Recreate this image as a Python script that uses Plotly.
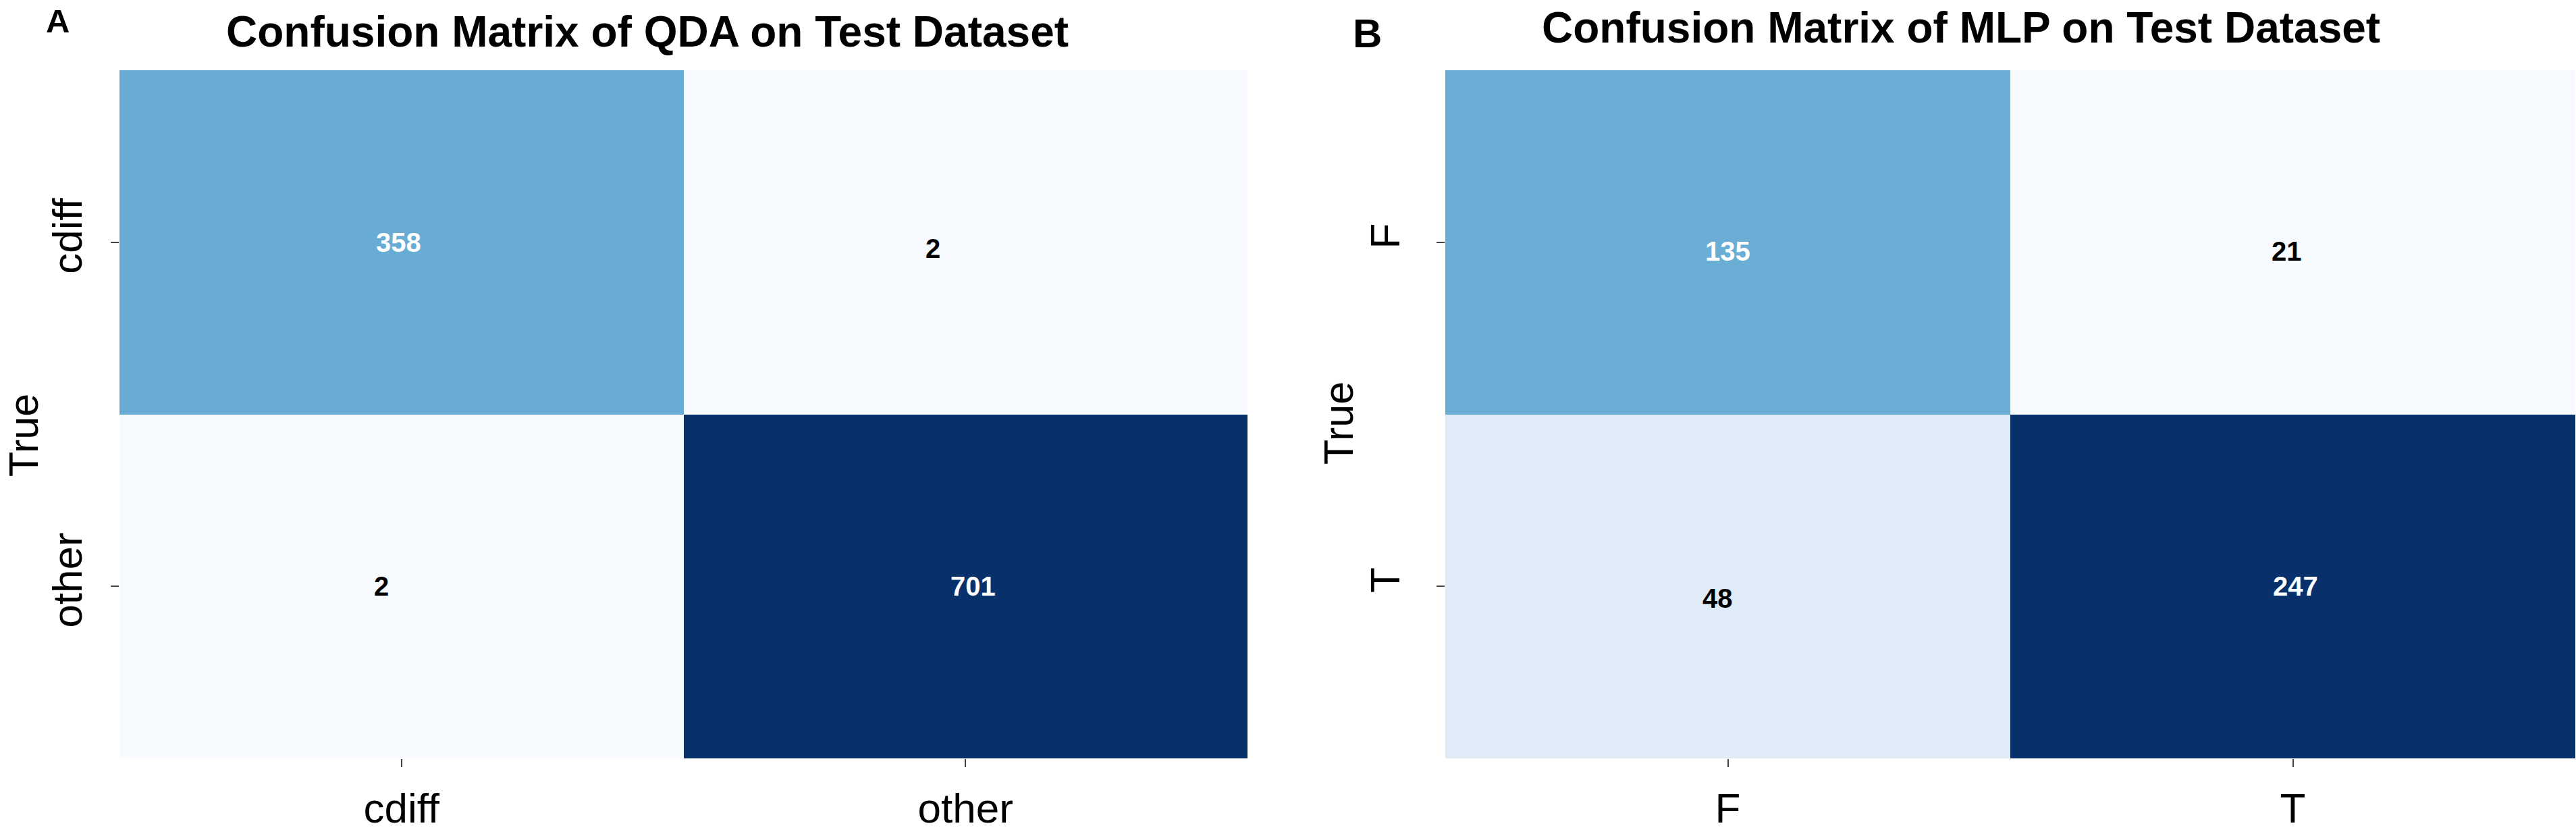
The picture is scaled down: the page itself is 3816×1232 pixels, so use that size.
import plotly.graph_objects as go
import plotly.express as px

# ---- data ----
labels_a = ["cdiff", "other"]
matrix_a = [[358, 2], [2, 701]]
labels_b = ["F", "T"]
matrix_b = [[135, 21], [48, 247]]
title_a = "Confusion Matrix of QDA on Test Dataset"
title_b = "Confusion Matrix of MLP on Test Dataset"
ylabel = "True"

# ---- style ----
W, H = 3816, 1232
FONT = "Liberation Sans, Arial, Helvetica, sans-serif"
blues = px.colors.sequential.Blues
cscale = [[i / (len(blues) - 1), c] for i, c in enumerate(blues)]

def px2x(p):
    return p / W

def px2y(p):
    return 1 - p / H

dom_a = [px2x(177), px2x(1848)]
dom_b = [px2x(2141), px2x(3815)]
dom_y = [px2y(1123), px2y(104)]

fig = go.Figure()

def add_panel(mat, labels, xa, ya, shifts):
    flat = [v for row in mat for v in row]
    zmin, zmax = min(flat), max(flat)
    fig.add_trace(go.Heatmap(
        z=mat, x=labels, y=labels, xaxis=xa, yaxis=ya,
        colorscale=cscale, zmin=zmin, zmax=zmax, showscale=False,
        hoverinfo="skip",
    ))
    for i, row in enumerate(mat):
        for j, v in enumerate(row):
            frac = (v - zmin) / (zmax - zmin)
            col = "white" if frac > 0.4 else "black"
            dx, dy = shifts[i][j]
            fig.add_annotation(
                x=labels[j], y=labels[i], xref=xa, yref=ya, text=str(v),
                showarrow=False, xshift=dx, yshift=dy,
                font=dict(family=FONT, size=40, color=col, weight="bold"),
            )

add_panel(matrix_a, labels_a, "x", "y", [[(-4, 0), (-48, -9)], [(-30, 0), (11, 0)]])
add_panel(matrix_b, labels_b, "x2", "y2", [[(0, -13), (-9, -13)], [(-15, -18), (4, 0)]])

axis_common = dict(
    showgrid=False, zeroline=False, showline=False, automargin=False,
    ticks="outside", ticklen=12, tickwidth=2, tickcolor="#444",
    tickfont=dict(family=FONT, size=62, color="black"),
)

fig.update_layout(
    width=W, height=H,
    margin=dict(l=0, r=0, t=0, b=0),
    paper_bgcolor="white", plot_bgcolor="white",
    xaxis=dict(domain=dom_a, anchor="y", ticklabelstandoff=8, **axis_common),
    yaxis=dict(domain=dom_y, anchor="x", autorange="reversed", tickangle=-90,
               ticklabelstandoff=18, **axis_common),
    xaxis2=dict(domain=dom_b, anchor="y2", ticklabelstandoff=8, **axis_common),
    yaxis2=dict(domain=dom_y, anchor="x2", autorange="reversed", tickangle=-90,
                ticklabelstandoff=30, **axis_common),
)

# titles
fig.add_annotation(x=px2x(959), y=px2y(47), xref="paper", yref="paper",
                   text=title_a, showarrow=False, xanchor="center", yanchor="middle",
                   font=dict(family=FONT, size=64, color="black", weight="bold"))
fig.add_annotation(x=px2x(2905), y=px2y(41), xref="paper", yref="paper",
                   text=title_b, showarrow=False, xanchor="center", yanchor="middle",
                   font=dict(family=FONT, size=64, color="black", weight="bold"))
# panel letters
fig.add_annotation(x=px2x(85), y=px2y(31), xref="paper", yref="paper",
                   text="A", showarrow=False, xanchor="center", yanchor="middle",
                   font=dict(family=FONT, size=49, color="black", weight="bold"))
fig.add_annotation(x=px2x(2025), y=px2y(49), xref="paper", yref="paper",
                   text="B", showarrow=False, xanchor="center", yanchor="middle",
                   font=dict(family=FONT, size=60, color="black", weight="bold"))
# y-axis titles
fig.add_annotation(x=0, y=px2y(645), xref="paper", yref="paper",
                   text=ylabel, showarrow=False, textangle=-90, borderpad=0,
                   xanchor="left", yanchor="middle",
                   font=dict(family=FONT, size=61, color="black"))
fig.add_annotation(x=px2x(1983), y=px2y(626), xref="paper", yref="paper",
                   text=ylabel, showarrow=False, textangle=-90,
                   xanchor="center", yanchor="middle",
                   font=dict(family=FONT, size=61, color="black"))

fig.write_html(
    "out.html",
    config={"displayModeBar": False},
    post_script="document.body.style.margin='0';document.body.style.overflow='hidden';",
)
